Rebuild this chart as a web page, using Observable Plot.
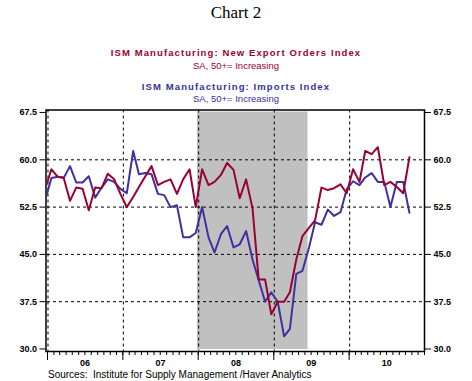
<!DOCTYPE html>
<html><head><meta charset="utf-8">
<script src="https://cdn.jsdelivr.net/npm/d3@7"></script>
<script src="https://cdn.jsdelivr.net/npm/@observablehq/plot@0.6"></script>
<style>
body{margin:0;background:#fff;}
#wrap{position:relative;width:472px;height:381px;overflow:hidden;font-family:"Liberation Sans",Arial,sans-serif;background:#fff;}
.t{position:absolute;left:0;width:472px;text-align:center;white-space:nowrap;z-index:2;}
#title{top:3px;font-family:"Liberation Serif","Times New Roman",serif;font-size:17px;line-height:20px;color:#000;}
.s1{font-weight:bold;font-size:9.5px;letter-spacing:1.1px;line-height:12px;}
.s2{font-size:9.5px;line-height:12px;}
#chart{position:absolute;left:0;top:100px;z-index:1;}
#src{position:absolute;left:48px;top:369px;font-size:10px;line-height:12px;white-space:pre;color:#000;z-index:2;}
</style></head>
<body><div id="wrap">
<div id="title" class="t">Chart 2</div>
<div class="t s1" style="top:47px;color:#990033">ISM Manufacturing: New Export Orders Index</div>
<div class="t s2" style="top:60px;color:#990033">SA, 50+= Increasing</div>
<div class="t s1" style="top:81px;color:#333399">ISM Manufacturing: Imports Index</div>
<div class="t s2" style="top:93px;color:#333399">SA, 50+= Increasing</div>
<div id="chart"></div>
<div id="src">Sources:  Institute for Supply Management /Haver Analytics</div>
</div>
<script>
// Monthly values, Dec 2005 .. Oct 2010
const firstMonth = [2005, 11];
const exportOrders = [
  55.3,
  58.5, 57.3, 57.2, 53.5, 55.6, 55.4, 52.0, 55.6, 55.5, 57.8, 56.9, 54.6,
  52.5, 54.1, 55.7, 57.4, 59.0, 56.0, 56.5, 56.9, 54.6, 56.9, 58.5, 52.5,
  58.5, 56.0, 56.5, 57.6, 59.5, 58.4, 53.9, 56.9, 52.3, 41.0, 41.0, 35.5,
  37.5, 37.5, 39.0, 44.2, 47.9, 49.2, 50.4, 55.6, 55.2, 55.5, 56.1, 54.7,
  58.5, 56.5, 61.4, 60.9, 62.0, 56.0, 56.5, 55.7, 54.7, 60.4
];
const imports = [
  53.5,
  57.1, 57.3, 57.1, 59.0, 56.4, 56.4, 57.4, 54.0, 55.6, 56.9, 56.5, 55.4,
  54.7, 61.4, 57.7, 57.9, 57.7, 54.6, 54.4, 52.5, 52.8, 47.7, 47.7, 48.4,
  52.5, 47.7, 45.3, 48.2, 49.5, 46.1, 46.6, 48.7, 44.2, 40.9, 37.5, 39.0,
  37.5, 32.0, 33.2, 41.9, 42.4, 46.0, 50.1, 49.7, 52.1, 51.1, 51.7, 55.3,
  56.6, 56.0, 57.2, 57.9, 56.5, 56.5, 52.5, 56.5, 56.5, 51.6
];
const yTicks = [30, 37.5, 45, 52.5, 60, 67.5];
const yGrid = [37.5, 45, 52.5, 60];
const years = [2006, 2007, 2008, 2009, 2010];
const yearLabels = ["06", "07", "08", "09", "10"];
const recession = [{start: "2007-12-28", end: "2009-06-16"}];

const RED = "#990033", BLUE = "#3F2FA0";
const pointDay = 20;
const dates = exportOrders.map((_, i) => new Date(Date.UTC(firstMonth[0], firstMonth[1] + i, pointDay)));
const expData = dates.map((d, i) => ({date: d, value: exportOrders[i]}));
const impData = dates.map((d, i) => ({date: d, value: imports[i]}));
const yearStarts = years.map(y => new Date(Date.UTC(y, 0, 1)));
const yearMids = years.map(y => new Date(Date.UTC(y, 6, 2)));
const monthTicks = d3.utcMonth.range(new Date(Date.UTC(2006, 0, 1)), new Date(Date.UTC(2011, 0, 2)));
const recData = recession.map(r => ({x1: new Date(r.start + "T00:00Z"), x2: new Date(r.end + "T00:00Z")}));

const fmt = d3.format(".1f");
const chart = Plot.plot({
  width: 472,
  height: 270,
  marginLeft: 47,
  marginRight: 48,
  marginTop: 9.5,
  marginBottom: 19,
  style: {fontFamily: "'Liberation Sans', Arial, sans-serif", background: "transparent", overflow: "visible"},
  x: {type: "utc", domain: [new Date(Date.UTC(2006, 0, 1)), new Date(Date.UTC(2011, 0, 1))]},
  y: {domain: [29.6, 67.9]},
  marks: [
    Plot.rect(recData, {x1: "x1", x2: "x2", fill: "#C0C0C0", insetTop: 2, insetBottom: 2}),
    Plot.ruleY(yGrid, {stroke: "black", strokeWidth: 1, strokeDasharray: "3,3"}),
    Plot.ruleX(yearStarts, {stroke: "black", strokeWidth: 1, strokeDasharray: "3,3", dx: 0.5}),
    Plot.line(impData, {x: "date", y: "value", stroke: BLUE, strokeWidth: 2, clip: true}),
    Plot.line(expData, {x: "date", y: "value", stroke: RED, strokeWidth: 2, clip: true}),
    Plot.frame({stroke: "black", strokeWidth: 1.5, insetLeft: -1.5}),
    Plot.axisY({anchor: "left", ticks: yTicks, tickFormat: fmt, tickSize: 6, tickPadding: 3, dx: -1.5, fontWeight: "bold", fontSize: 9, letterSpacing: 0.6, stroke: "black", label: null}),
    Plot.axisY({anchor: "right", ticks: yTicks, tickFormat: fmt, tickSize: 6, tickPadding: 3, fontWeight: "bold", fontSize: 9, letterSpacing: 0.6, label: null}),
    Plot.axisX({ticks: monthTicks, tickSize: 4, tickFormat: () => "", label: null}),
    Plot.axisX({ticks: yearStarts, tickSize: 9, tickFormat: () => "", label: null}),
    Plot.text(yearLabels, {x: (d, i) => yearMids[i], frameAnchor: "bottom", dy: 14, text: d => d, fontWeight: "bold", fontSize: 9, letterSpacing: 0.5, fill: "black"})
  ]
});
document.getElementById("chart").appendChild(chart);
</script>
</body></html>
